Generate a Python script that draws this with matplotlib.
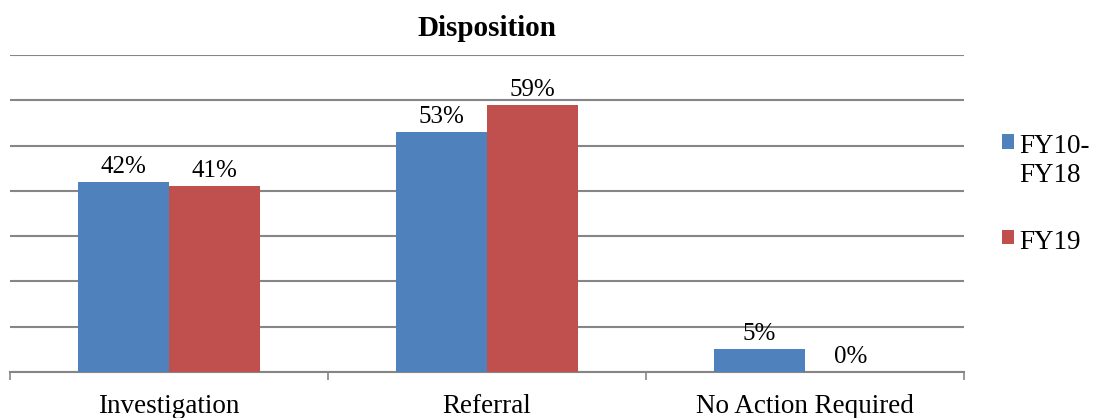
import numpy as np
import matplotlib.pyplot as plt

categories = ['Investigation', 'Referral', 'No Action Required']
series_names = ['FY10-\nFY18', 'FY19']
fy10_18 = [42, 53, 5]
fy19 = [41, 59, 0]
colors = ['#4F81BD', '#C0504D']

plt.rcParams['font.family'] = ['Liberation Serif', 'DejaVu Serif']

fig = plt.figure(figsize=(10.93, 4.18), dpi=100)
ax = fig.add_axes([10 / 1093, 46 / 418, 954 / 1093, 317 / 418])

x = np.arange(len(categories))
w = 0.285
bars1 = ax.bar(x - w / 2, fy10_18, w, color=colors[0], label=series_names[0], zorder=3)
bars2 = ax.bar(x + w / 2, fy19, w, color=colors[1], label=series_names[1], zorder=3)

for bars in (bars1, bars2):
    for b in bars:
        h = b.get_height()
        ax.annotate(f'{h:.0f}%', (b.get_x() + b.get_width() / 2, h),
                    xytext=(0, 3), textcoords='offset points',
                    ha='center', va='bottom', fontsize=18)

ax.set_xlim(-0.5, 2.5)
ax.set_ylim(0, 70)
ax.set_yticks(np.arange(0, 71, 10))
ax.yaxis.grid(True, color='#868686', linewidth=1.5, zorder=0)
ax.tick_params(axis='y', left=False, labelleft=False)

ax.set_xticks(x)
ax.set_xticklabels(categories, fontsize=19.5)
ax.tick_params(axis='x', length=0, pad=16)
ax.set_xticks([-0.5, 0.5, 1.5, 2.5], minor=True)
ax.tick_params(axis='x', which='minor', length=6, color='#868686', width=1.2)

for s in ['top', 'right', 'left']:
    ax.spines[s].set_visible(False)
ax.spines['bottom'].set_color('#868686')
ax.spines['bottom'].set_linewidth(1.5)

ax.set_title('Disposition', fontsize=21, fontweight='bold', pad=14)

leg = ax.legend(loc='upper left', bbox_to_anchor=(1002 / 1093, 1 - 134 / 418),
                bbox_transform=fig.transFigure, frameon=False, fontsize=19.5,
                handlelength=0.45, handleheight=0.45, handletextpad=0.2,
                labelspacing=1.55, borderaxespad=0, borderpad=0)
# put the square next to the first line of a wrapped label
for col in leg._legend_handle_box.get_children():
    for row in col.get_children():
        row.align = 'top'

fig.savefig('out.png', dpi=100)
